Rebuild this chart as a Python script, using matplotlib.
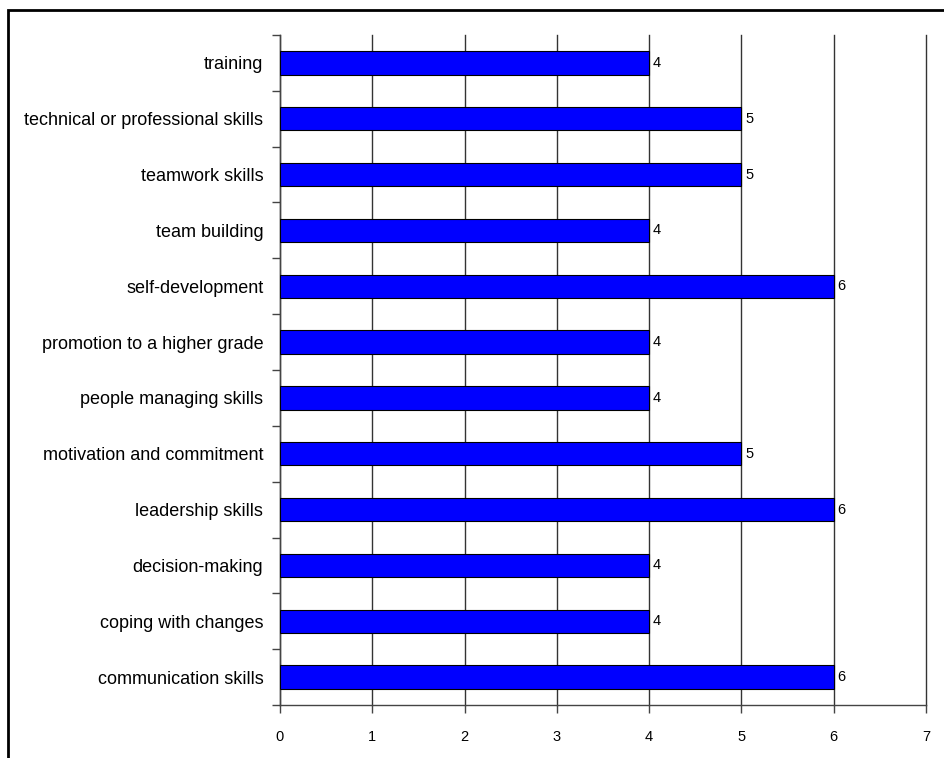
import matplotlib.pyplot as plt
from matplotlib.patches import Rectangle
import numpy as np

plt.rcParams['font.family'] = ['Liberation Sans', 'DejaVu Sans']

# bottom to top
categories = ["communication skills", "coping with changes", "decision-making",
              "leadership skills", "motivation and commitment",
              "people managing skills", "promotion to a higher grade",
              "self-development", "team building", "teamwork skills",
              "technical or professional skills", "training"]
values = [6, 4, 4, 6, 5, 4, 4, 6, 4, 5, 5, 4]
xticks = [0, 1, 2, 3, 4, 5, 6, 7]

fig = plt.figure(figsize=(9.44, 7.58), dpi=100)
ax = fig.add_axes([280 / 944, 1 - 705 / 758, 646 / 944, 670 / 758])

y = np.arange(len(categories))
bars = ax.barh(y, values, height=0.42, color="#0000FF", edgecolor="black",
               linewidth=0.8, zorder=3)
for b, v in zip(bars, values):
    ax.text(b.get_width() + 0.04, b.get_y() + b.get_height() / 2, str(v),
            va="center", ha="left", fontsize=10.5, zorder=4)

ax.set_xlim(0, 7)
ax.set_ylim(-0.5, len(categories) - 0.5)
ax.set_xticks(xticks)
ax.set_xticklabels([str(t) for t in xticks], fontsize=10.5)
ax.set_yticks(y)
ax.set_yticklabels(categories, fontsize=13)
ax.set_yticks(np.arange(-0.5, len(categories)), minor=True)
ax.tick_params(axis="y", which="major", length=0, pad=12)
ax.tick_params(axis="y", which="minor", length=6, width=1, color="#444444")
ax.tick_params(axis="x", length=6, width=1, color="#444444", pad=12)
ax.grid(axis="x", color="#333333", linewidth=1, zorder=0)
for gl in ax.get_xgridlines():
    gl.set_clip_on(False)

for s in ["top", "right"]:
    ax.spines[s].set_visible(False)
for s in ["left", "bottom"]:
    ax.spines[s].set_color("#444444")
    ax.spines[s].set_linewidth(1)

# outer chart frame (cropped at right and bottom)
fig.patches.append(Rectangle((8 / 944, -0.05), 1.2, 1 - 10 / 758 + 0.05,
                             transform=fig.transFigure, fill=False,
                             edgecolor="black", linewidth=2, zorder=10))

fig.savefig("out.png", dpi=100)
